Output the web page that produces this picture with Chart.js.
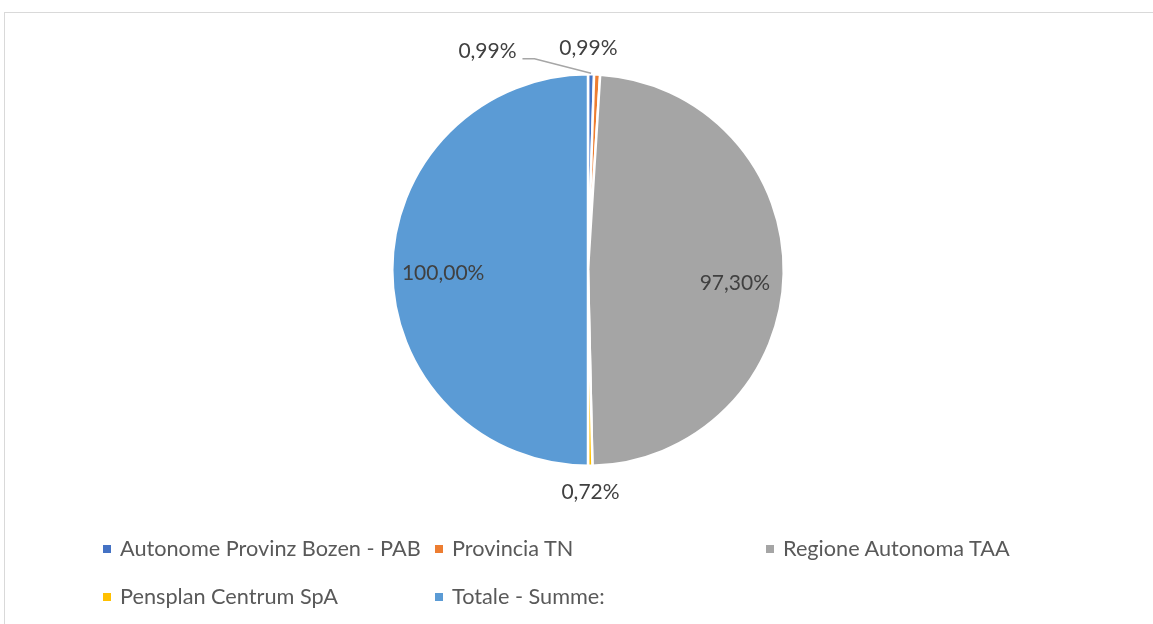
<!DOCTYPE html>
<html>
<head>
<meta charset="utf-8">
<script src="https://cdn.jsdelivr.net/npm/chart.js@4"></script>
<style>
  body { margin: 0; background: #fff; font-family: Lato, "Open Sans", sans-serif; }
  #wrap { position: relative; width: 1153px; height: 624px; overflow: hidden; }
  #frame { position: absolute; left: 4px; top: 12px; width: 1200px; height: 700px; border: 1px solid #d9d9d9; }
  #myChart { position: absolute; left: 0; top: 0; }
  .leg { position: absolute; font-size: 21.7px; color: #595959; white-space: nowrap; line-height: 24px; }
  .leg i { display: inline-block; width: 8px; height: 8px; margin-right: 9px; vertical-align: 3px; }
</style>
</head>
<body>
<div id="wrap">
  <div id="frame"></div>
  <canvas id="myChart" width="1153" height="624"></canvas>
</div>
<script>
// kategorier och värden (procent)
const labels = ["Autonome Provinz Bozen - PAB", "Provincia TN", "Regione Autonoma TAA", "Pensplan Centrum SpA", "Totale - Summe:"];
const values = [0.99, 0.99, 97.30, 0.72, 100.00];
const colors = ["#4472C4", "#ED7D31", "#A5A5A5", "#FFC000", "#5B9BD5"];

// var etiketten hamnar: inne i tårtbiten eller utanför
const labelSpots = [
  { r: 1.14, dx: -104, dy: 4, leader: true },
  { r: 1.14, dx: -10, dy: 1 },
  { r: 0.74, dx: 2, dy: 10 },
  { r: 1.13, dx: 0, dy: 1 },
  { r: 0.74, dx: 0, dy: 3 }
];
const legendPos = [[103, 536], [435, 536], [766, 536], [103, 584], [435, 584]];

const fmt = (v) => v.toFixed(2).replace(".", ",") + "%";

const labelPlugin = {
  id: "pieLabels",
  afterDatasetsDraw(chart) {
    const ctx = chart.ctx;
    const arcs = chart.getDatasetMeta(0).data;
    ctx.save();
    ctx.font = "21px Lato, 'Open Sans', sans-serif";
    ctx.fillStyle = "#404040";
    ctx.textAlign = "center";
    ctx.textBaseline = "middle";
    arcs.forEach((arc, i) => {
      const p = arc.getProps(["x", "y", "startAngle", "endAngle", "outerRadius"], true);
      const mid = (p.startAngle + p.endAngle) / 2;
      const s = labelSpots[i];
      const x = p.x + Math.cos(mid) * p.outerRadius * s.r + s.dx;
      const y = p.y + Math.sin(mid) * p.outerRadius * s.r + s.dy;
      ctx.fillText(fmt(values[i]), x, y);
      if (s.leader) {
        const ex = p.x + Math.cos(mid) * p.outerRadius;
        const ey = p.y + Math.sin(mid) * p.outerRadius;
        ctx.strokeStyle = "#a6a6a6";
        ctx.lineWidth = 1.5;
        ctx.beginPath();
        ctx.moveTo(x + 35, y + 8);
        ctx.lineTo(x + 47, y + 8);
        ctx.lineTo(ex, ey - 1);
        ctx.stroke();
      }
    });
    ctx.restore();
  }
};

new Chart(document.getElementById("myChart"), {
  type: "pie",
  data: {
    labels,
    datasets: [{
      data: values,
      backgroundColor: colors,
      borderColor: "#ffffff",
      borderWidth: 2.5
    }]
  },
  options: {
    responsive: false,
    animation: false,
    layout: { padding: { top: 73, bottom: 157, left: 208, right: 185 } },
    plugins: { legend: { display: false }, tooltip: { enabled: false } }
  },
  plugins: [labelPlugin]
});

// legenden byggs för hand för att få kolumnerna som i originalet
const wrap = document.getElementById("wrap");
labels.forEach((name, i) => {
  const d = document.createElement("div");
  d.className = "leg";
  d.style.left = legendPos[i][0] + "px";
  d.style.top = legendPos[i][1] + "px";
  d.innerHTML = '<i style="background:' + colors[i] + '"></i>' + name;
  wrap.appendChild(d);
});
</script>
</body>
</html>
